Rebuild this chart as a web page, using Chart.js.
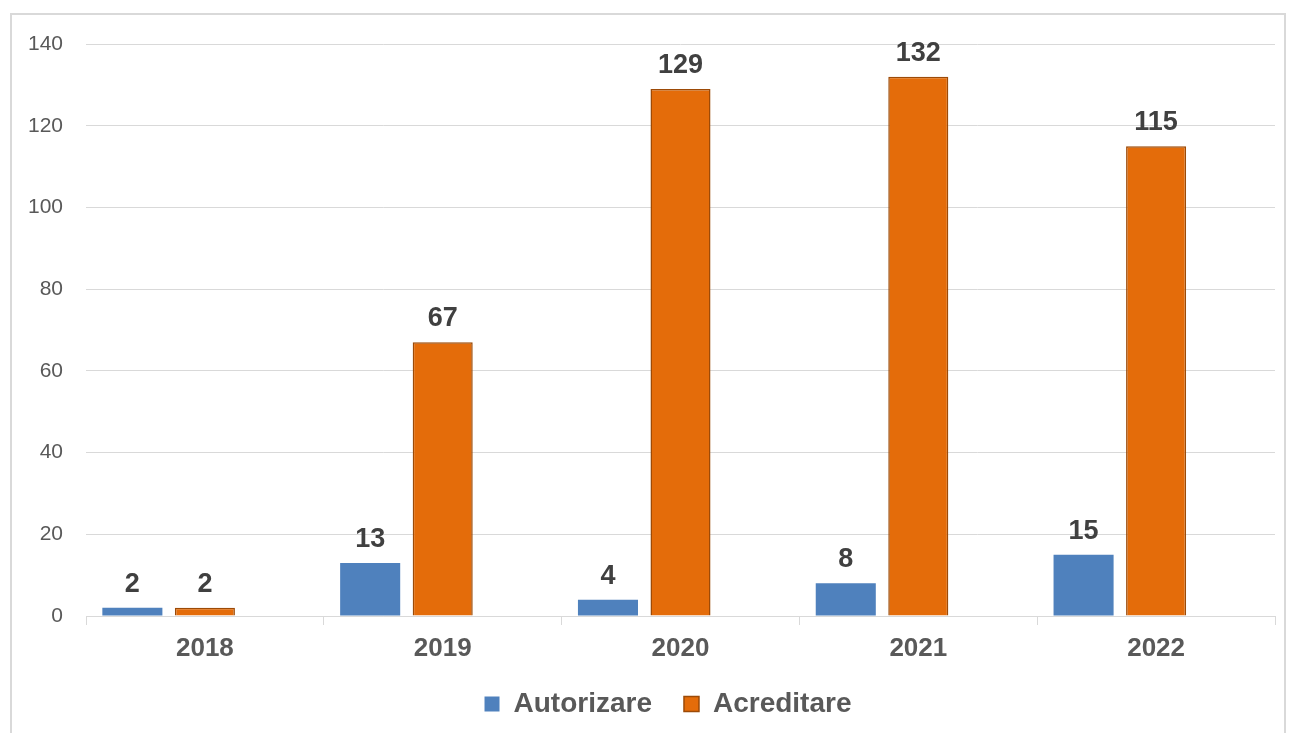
<!DOCTYPE html>
<html>
<head>
<meta charset="utf-8">
<title>Autorizare / Acreditare</title>
<script src="https://cdn.jsdelivr.net/npm/chart.js@4"></script>
<style>
  html, body { margin: 0; padding: 0; background: #fff; }
  #wrap { width: 1291px; height: 733px; }
</style>
</head>
<body>
<div id="wrap"><canvas id="chart" width="1291" height="733"></canvas></div>
<script>
// values
const years = ["2018", "2019", "2020", "2021", "2022"];
const autorizare = [2, 13, 4, 8, 15];
const acreditare = [2, 67, 129, 132, 115];
const spacer = [null, null, null, null, null]; // empty third series keeps the bars left of centre
const yMax = 140;
const yStep = 20;

const FONT = "'Liberation Sans', Arial, sans-serif";

// frame round the whole chart
const framePlugin = {
  id: "frame",
  beforeDraw(chart) {
    const c = chart.ctx;
    c.save();
    c.strokeStyle = "#d9d9d9";
    c.lineWidth = 2;
    c.strokeRect(11, 14, 1274, 760);
    c.restore();
  }
};

// value labels above the bars
const valueLabels = {
  id: "valueLabels",
  afterDatasetsDraw(chart) {
    const c = chart.ctx;
    c.save();
    c.font = "bold 27px " + FONT;
    c.fillStyle = "#404040";
    c.textAlign = "center";
    c.textBaseline = "alphabetic";
    chart.data.datasets.forEach((ds, i) => {
      const meta = chart.getDatasetMeta(i);
      meta.data.forEach((bar, j) => {
        const v = ds.data[j];
        if (v == null) return;
        c.fillText(String(v), bar.x, bar.y - 16);
      });
    });
    c.restore();
  }
};

new Chart(document.getElementById("chart"), {
  type: "bar",
  data: {
    labels: years,
    datasets: [
      {
        label: "Autorizare",
        data: autorizare,
        backgroundColor: "#4f81bd",
        borderWidth: 0
      },
      {
        label: "Acreditare",
        data: acreditare,
        backgroundColor: "#e46c0a",
        borderColor: "#9c4a07",
        borderWidth: 1.5
      },
      {
        label: "",
        data: spacer,
        backgroundColor: "rgba(0,0,0,0)",
        borderWidth: 0
      }
    ]
  },
  options: {
    responsive: false,
    animation: false,
    layout: { padding: { left: 0, right: 16, top: 44, bottom: 5 } },
    datasets: {
      bar: { categoryPercentage: 0.915, barPercentage: 0.828 }
    },
    plugins: {
      tooltip: { enabled: false },
      legend: {
        display: true,
        position: "bottom",
        labels: {
          // the empty spacer item goes first, nudging the real items right
          sort: (a, b) => (a.text === "" ? -1 : 0) - (b.text === "" ? -1 : 0) || a.datasetIndex - b.datasetIndex,
          boxWidth: 15,
          boxHeight: 15,
          padding: 32,
          color: "#595959",
          font: { family: FONT, size: 28, weight: "bold" }
        }
      }
    },
    scales: {
      x: {
        grid: {
          offset: true,
          drawOnChartArea: false,
          drawTicks: true,
          tickLength: 9,
          color: "#d9d9d9"
        },
        border: { color: "#d9d9d9", width: 1 },
        ticks: {
          color: "#595959",
          padding: 8,
          font: { family: FONT, size: 26, weight: "bold" }
        },
        afterFit(scale) { scale.height = 42; }
      },
      y: {
        min: 0,
        max: yMax,
        grid: { color: "#d9d9d9", drawTicks: false, lineWidth: 1 },
        border: { display: false },
        ticks: {
          stepSize: yStep,
          color: "#595959",
          padding: 23,
          font: { family: FONT, size: 21 }
        },
        afterFit(scale) { scale.width = 86; }
      }
    }
  },
  plugins: [framePlugin, valueLabels]
});
</script>
</body>
</html>
